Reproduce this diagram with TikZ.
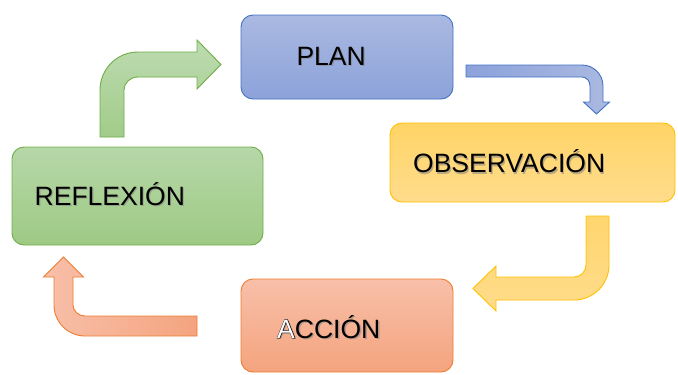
\documentclass[tikz,border=0pt]{standalone}
\usepackage{fontspec}
\setmainfont{Liberation Sans}
\definecolor{planTop}{HTML}{AAB9E1}
\definecolor{planBot}{HTML}{8CA2DA}
\definecolor{planLine}{HTML}{4472C4}
\definecolor{obsTop}{HTML}{FFD466}
\definecolor{obsBot}{HTML}{FFDC8C}
\definecolor{obsLine}{HTML}{FFC000}
\definecolor{accTop}{HTML}{F8BFA9}
\definecolor{accBot}{HTML}{F4A47E}
\definecolor{accLine}{HTML}{ED7D31}
\definecolor{refTop}{HTML}{B6D7A8}
\definecolor{refBot}{HTML}{9ECA84}
\definecolor{refLine}{HTML}{70AD47}
\tikzset{
  box/.style={rounded corners=12pt, line width=0.9pt},
  arr/.style={line width=0.9pt, line join=miter},
  lbl/.style={anchor=base west, inner sep=0pt, font=\fontsize{26.5}{31}\selectfont},
  shad/.style={lbl, text=black!50, opacity=0.55}
}
\begin{document}
\begin{tikzpicture}[x=1pt,y=-1pt]
\useasboundingbox (0,0) rectangle (678,375);

% boxes
\draw[box, draw=planLine, top color=planTop, bottom color=planBot] (241,15) rectangle (453,99);
\draw[box, draw=obsLine, top color=obsTop, bottom color=obsBot] (390,123) rectangle (675,202);
\draw[box, draw=accLine, top color=accTop, bottom color=accBot] (241,279) rectangle (453,372);
\draw[box, draw=refLine, top color=refTop, bottom color=refBot] (12,147) rectangle (263,245);

% green arrow (REFLEXION -> PLAN)
\draw[arr, draw=refLine, top color=refTop!90!white, bottom color=refBot!85!refTop]
  (100,137) -- (100,90) .. controls (100,69) and (117,52) .. (138,52)
  -- (197,52) -- (197,40) -- (221,64.5) -- (197,89) -- (197,77) -- (138,77)
  .. controls (130.3,77) and (124,82.8) .. (124,90) -- (124,137) -- cycle;

% blue arrow (PLAN -> OBSERVACION)
\draw[arr, draw=planLine, left color=planBot, right color=planTop]
  (466,65) -- (582,65) .. controls (593.6,65) and (603,74.4) .. (603,86)
  -- (603,102) -- (609.5,102) -- (596.5,114) -- (583.5,102) -- (590,102) -- (590,86)
  .. controls (590,81) and (586.4,77) .. (582,77) -- (466,77) -- cycle;

% yellow arrow (OBSERVACION -> ACCION)
\draw[arr, draw=obsLine, top color=obsTop!80!obsBot, bottom color=obsBot]
  (586,216) -- (609,216) -- (609,265) .. controls (609,284.3) and (593.3,300) .. (574,300)
  -- (496,300) -- (496,311) -- (473,288.5) -- (496,266) -- (496,277) -- (574,277)
  .. controls (580.6,277) and (586,271.6) .. (586,265) -- cycle;

% orange arrow (ACCION -> REFLEXION)
\draw[arr, draw=accLine, left color=accTop, right color=accBot]
  (197,316) -- (85,316) .. controls (78.4,316) and (73,310.9) .. (73,305)
  -- (73,277) -- (83.5,277) -- (63.5,257) -- (43.5,277) -- (54,277) -- (54,305)
  .. controls (54,322.1) and (67.9,336) .. (85,336) -- (197,336) -- cycle;

% labels with soft shadow
\node[shad] (planS) at (297.5,66.3) {PLAN};
\node[lbl] (plan) at (296.3,65) {PLAN};
\node[shad] (obsS) at (414.2,174) {OBSERVACIÓN};
\node[lbl] (obs) at (413,172.7) {OBSERVACIÓN};
\node[shad] (refS) at (35.7,206.3) {REFLEXIÓN};
\node[lbl] (ref) at (34.5,205) {REFLEXIÓN};

% ACCION with outlined A
\node[shad] (accS) at (278.5,339.5) {ACCIÓN};
\node[lbl] (acc) at (277,338) {\rlap{\addfontfeature{FakeBold=3}A}\textcolor{white}{A}CCIÓN};
\end{tikzpicture}
\end{document}
